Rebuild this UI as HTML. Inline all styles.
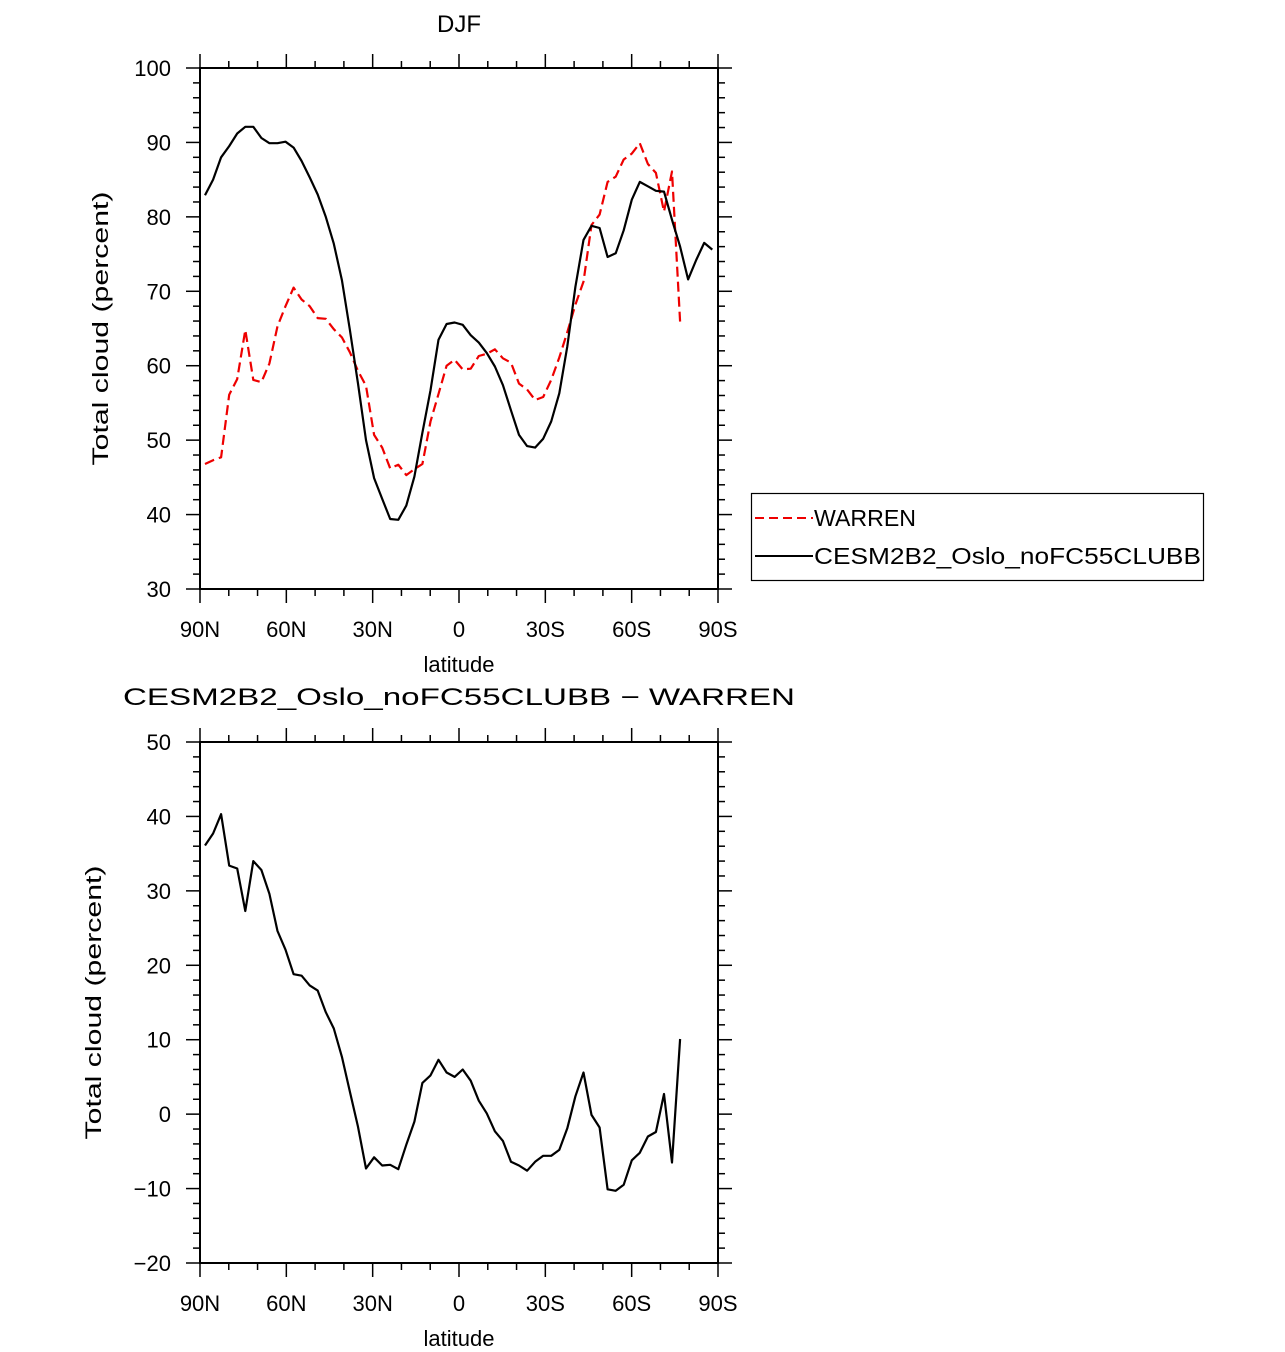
<!DOCTYPE html>
<html><head><meta charset="utf-8"><style>
html,body{margin:0;padding:0;background:#fff;}
svg{display:block;}
text{font-family:"Liberation Sans",sans-serif;fill:#000;}
</style></head><body>
<svg id="chart" width="1285" height="1352" viewBox="0 0 1285 1352" xmlns="http://www.w3.org/2000/svg">
<text x="459" y="32" font-size="24" text-anchor="middle">DJF</text>
<text x="459" y="705" font-size="24" text-anchor="middle" textLength="672" lengthAdjust="spacingAndGlyphs">CESM2B2_Oslo_noFC55CLUBB − WARREN</text>
<g id="p1"></g>
<g id="p2"></g>
<g>
<rect x="751.5" y="493.5" width="452" height="87" fill="none" stroke="#000" stroke-width="1.2"/>
<line x1="755" y1="518" x2="813" y2="518" stroke="#e00" stroke-width="2" stroke-dasharray="9,5"/>
<text x="814" y="526" font-size="23" textLength="102" lengthAdjust="spacingAndGlyphs">WARREN</text>
<line x1="755" y1="556" x2="813" y2="556" stroke="#000" stroke-width="2"/>
<text x="814" y="564" font-size="23" textLength="387" lengthAdjust="spacingAndGlyphs">CESM2B2_Oslo_noFC55CLUBB</text>
</g>
</svg>
<script>
const xTickLabels = ["90N","60N","30N","0","30S","60S","90S"];
const xTickValues = [90,60,30,0,-30,-60,-90];
const topYTicks = [30,40,50,60,70,80,90,100];
const botYTicks = [-20,-10,0,10,20,30,40,50];
const model = [82.9,85.0,88.0,89.5,91.2,92.1,92.1,90.6,89.9,89.9,90.1,89.3,87.5,85.3,83.0,80.0,76.4,71.5,64.8,57.6,50.0,44.9,42.1,39.4,39.3,41.2,45.1,51.0,56.7,63.5,65.6,65.8,65.5,64.1,63.1,61.7,59.9,57.4,54.0,50.7,49.2,49.0,50.2,52.5,56.3,62.6,70.6,76.9,78.8,78.5,74.6,75.1,78.2,82.3,84.7,84.1,83.5,83.4,79.6,76.0,71.6,74.2,76.5,75.6];
const warren = [46.8,47.3,47.7,56.1,58.2,64.8,58.1,57.8,60.3,65.3,68.0,70.5,68.9,68.0,66.4,66.3,64.9,63.8,61.8,59.3,57.3,50.7,49.0,46.2,46.7,45.3,46.1,46.8,52.5,56.2,60.0,60.8,59.5,59.6,61.3,61.6,62.2,61.0,60.4,57.6,56.8,55.4,55.8,58.1,61.1,64.5,68.2,71.3,78.9,80.3,84.7,85.4,87.7,88.5,89.9,87.1,85.9,80.7,86.1,65.9];
const diff = [36.1,37.7,40.3,33.4,33.0,27.3,34.0,32.8,29.6,24.6,22.1,18.8,18.6,17.3,16.6,13.7,11.5,7.7,3.0,-1.7,-7.3,-5.8,-6.9,-6.8,-7.4,-4.1,-1.0,4.2,5.2,7.3,5.6,5.0,6.0,4.5,1.8,0.1,-2.3,-3.6,-6.4,-6.9,-7.6,-6.4,-5.6,-5.6,-4.8,-1.9,2.4,5.6,-0.1,-1.8,-10.1,-10.3,-9.5,-6.2,-5.2,-3.0,-2.4,2.7,-6.5,10.1];
const lat0 = 88.26, dlat = 2.798;

const NS="http://www.w3.org/2000/svg";
function mk(tag, attrs, parent){const e=document.createElementNS(NS,tag);for(const k in attrs)e.setAttribute(k,attrs[k]);parent.appendChild(e);return e;}
const L=200,R=718;
const xs = lat => L + (90-lat)*(R-L)/180;

function panel(g, top, bot, ymin, ymax, yticks, ylabelY){
  const ys = v => bot - (v-ymin)*(bot-top)/(ymax-ymin);
  const fr = mk('rect',{x:L,y:top,width:R-L,height:bot-top,fill:'none',stroke:'#000','stroke-width':2},g);
  
  
  for(let v=ymin; v<=ymax; v+=2){
    const major = (v-ymin)%10===0, len = major?14:7;
    mk('line',{x1:L-len,y1:ys(v),x2:L,y2:ys(v),stroke:'#000','stroke-width':1.5},g);
    mk('line',{x1:R,y1:ys(v),x2:R+len,y2:ys(v),stroke:'#000','stroke-width':1.5},g);
  }
  for(let d=90; d>=-90; d-=10){
    const major = d%30===0, len = major?14:7;
    mk('line',{x1:xs(d),y1:top-len,x2:xs(d),y2:top,stroke:'#000','stroke-width':1.5},g);
    mk('line',{x1:xs(d),y1:bot,x2:xs(d),y2:bot+len,stroke:'#000','stroke-width':1.5},g);
  }
  yticks.forEach(v=>{
    const t=mk('text',{x:171,y:ys(v)+8,'font-size':22,'text-anchor':'end'},g);
    t.textContent = v<0 ? '−'+Math.abs(v) : String(v);
    
    
  });
  xTickValues.forEach((d,i)=>{
    const t=mk('text',{x:xs(d),y:bot+48,'font-size':22,'text-anchor':'middle'},g);
    t.textContent = xTickLabels[i];
    
    
  });
  const xl=mk('text',{x:459,y:bot+83,'font-size':22,'text-anchor':'middle'},g);
  xl.textContent='latitude';
  
  
  const yl=mk('text',{x:0,y:0,'font-size':22,'text-anchor':'middle',transform:`translate(${ylabelY},${(top+bot)/2}) rotate(-90)`,textLength:274,lengthAdjust:'spacingAndGlyphs'},g);
  yl.textContent='Total cloud (percent)';
  
  
  return ys;
}
function line(g, vals, ys, color, dash, name){
  const pts = vals.map((v,i)=>xs(lat0-dlat*i).toFixed(1)+','+ys(v).toFixed(1)).join(' ');
  const p = mk('polyline',{points:pts,fill:'none',stroke:color,'stroke-width':2.2,'stroke-linejoin':'round'},g);
  if(dash) p.setAttribute('stroke-dasharray',dash);
  
  
}
const g1=document.getElementById('p1'), g2=document.getElementById('p2');
const ys1 = panel(g1, 68, 589, 30, 100, topYTicks, 108);
line(g1, warren, ys1, '#e00', '10,5', 'warren-line');
line(g1, model, ys1, '#000', null, 'model-line');
const ys2 = panel(g2, 742, 1263, -20, 50, botYTicks, 101);
line(g2, diff, ys2, '#000', null, 'difference-line');
</script>
</body></html>
